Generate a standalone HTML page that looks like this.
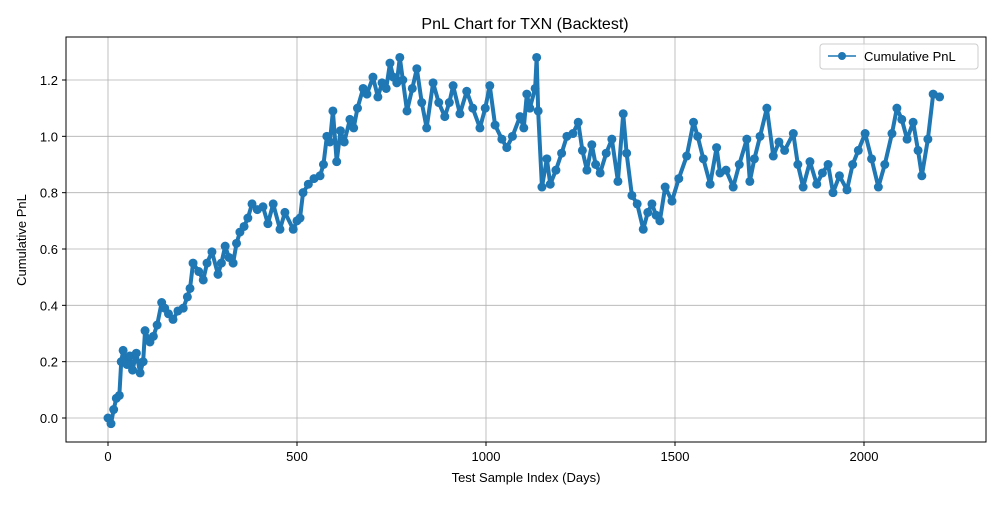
<!DOCTYPE html>
<html><head><meta charset="utf-8"><style>
body{margin:0;background:#fff;}
svg text{font-family:"Liberation Sans","DejaVu Sans",sans-serif;fill:#000;}
</style></head><body>
<svg id="chart" width="1000" height="500">
<rect width="1000" height="500" fill="#fff"/>
<text x="525" y="29" font-size="16" text-anchor="middle">PnL Chart for TXN (Backtest)</text>
<g id="grid"></g>
<g id="series"></g>
<rect x="66" y="37" width="920" height="405" fill="none" stroke="#000" stroke-width="1"/>
<g id="ticks"></g>
<text x="526" y="482" font-size="13" text-anchor="middle">Test Sample Index (Days)</text>
<text transform="translate(26,240) rotate(-90)" font-size="13" text-anchor="middle">Cumulative PnL</text>
<g>
<rect x="820" y="44" width="158" height="25" rx="3" fill="#fff" fill-opacity="0.8" stroke="#ccc"/>
<line x1="828" y1="56" x2="856" y2="56" stroke="#1f77b4" stroke-width="1.5"/>
<circle cx="842" cy="56" r="4" fill="#1f77b4"/>
<text x="864" y="61" font-size="13">Cumulative PnL</text>
</g>
</svg>
<script>
const days=[0,8,15,22,30,35,40,50,58,65,75,85,93,98,111,120,130,142,150,160,172,185,199,210,217,225,240,252,262,275,291,300,310,320,331,340,349,360,370,381,395,410,423,437,455,468,490,500,508,516,530,545,561,570,579,587,595,605,615,625,640,650,660,675,685,701,714,725,736,746,755,764,772,780,791,805,817,830,843,860,875,891,903,913,931,949,965,984,998,1010,1024,1042,1055,1070,1090,1100,1108,1116,1130,1134,1138,1148,1161,1170,1185,1200,1214,1230,1244,1255,1267,1280,1290,1302,1318,1333,1349,1363,1372,1386,1400,1416,1428,1439,1450,1460,1474,1492,1510,1531,1549,1560,1575,1593,1610,1619,1635,1654,1670,1690,1698,1710,1725,1743,1760,1775,1790,1813,1825,1839,1857,1875,1890,1905,1918,1935,1955,1970,1985,2003,2020,2038,2055,2074,2087,2100,2114,2130,2143,2153,2169,2183,2200];
const pnl=[0.0,-0.02,0.03,0.07,0.08,0.2,0.24,0.19,0.22,0.17,0.23,0.16,0.2,0.31,0.27,0.29,0.33,0.41,0.39,0.37,0.35,0.38,0.39,0.43,0.46,0.55,0.52,0.49,0.55,0.59,0.51,0.55,0.61,0.57,0.55,0.62,0.66,0.68,0.71,0.76,0.74,0.75,0.69,0.76,0.67,0.73,0.67,0.70,0.71,0.80,0.83,0.85,0.86,0.9,1.0,0.98,1.09,0.91,1.02,0.98,1.06,1.03,1.1,1.17,1.15,1.21,1.14,1.19,1.17,1.26,1.21,1.19,1.28,1.2,1.09,1.17,1.24,1.12,1.03,1.19,1.12,1.07,1.12,1.18,1.08,1.16,1.1,1.03,1.1,1.18,1.04,0.99,0.96,1.0,1.07,1.03,1.15,1.1,1.17,1.28,1.09,0.82,0.92,0.83,0.88,0.94,1.0,1.01,1.05,0.95,0.88,0.97,0.9,0.87,0.94,0.99,0.84,1.08,0.94,0.79,0.76,0.67,0.73,0.76,0.72,0.70,0.82,0.77,0.85,0.93,1.05,1.0,0.92,0.83,0.96,0.87,0.88,0.82,0.9,0.99,0.84,0.92,1.0,1.10,0.93,0.98,0.95,1.01,0.9,0.82,0.91,0.83,0.87,0.90,0.80,0.86,0.81,0.9,0.95,1.01,0.92,0.82,0.9,1.01,1.10,1.06,0.99,1.05,0.95,0.86,0.99,1.15,1.14];
const xTicks=[0,500,1000,1500,2000];
const yTicks=[0.0,0.2,0.4,0.6,0.8,1.0,1.2];
const NS="http://www.w3.org/2000/svg";
const X=v=>108+v*(864-108)/2000;
const Y=v=>418-v*(418-80)/1.2;
const grid=document.getElementById('grid'),ticks=document.getElementById('ticks'),ser=document.getElementById('series');
function mk(tag,attrs,parent){const e=document.createElementNS(NS,tag);for(const k in attrs)e.setAttribute(k,attrs[k]);parent.appendChild(e);return e;}
xTicks.forEach(t=>{
 const g=mk('line',{x1:X(t),x2:X(t),y1:37,y2:442,stroke:'#b0b0b0','stroke-width':0.8},grid);
 
 
 mk('line',{x1:X(t),x2:X(t),y1:442,y2:446,stroke:'#000'},ticks);
 const tx=mk('text',{x:X(t),y:461,'font-size':13,'text-anchor':'middle'},ticks);
 tx.textContent=t;
 
 
});
yTicks.forEach(t=>{
 const g=mk('line',{x1:66,x2:986,y1:Y(t),y2:Y(t),stroke:'#b0b0b0','stroke-width':0.8},grid);
 
 
 mk('line',{x1:62,x2:66,y1:Y(t),y2:Y(t),stroke:'#000'},ticks);
 const tx=mk('text',{x:58,y:Y(t)+5,'font-size':13,'text-anchor':'end'},ticks);
 tx.textContent=t.toFixed(1);
 
 
});
const pts=days.map((d,i)=>X(d)+','+Y(pnl[i])).join(' ');
const pl=mk('polyline',{points:pts,fill:'none',stroke:'#1f77b4','stroke-width':4,'stroke-linejoin':'round'},ser);


days.forEach((d,i)=>{
 const c=mk('circle',{cx:X(d),cy:Y(pnl[i]),r:4.5,fill:'#1f77b4'},ser);
 
 
});
</script>
</body></html>
